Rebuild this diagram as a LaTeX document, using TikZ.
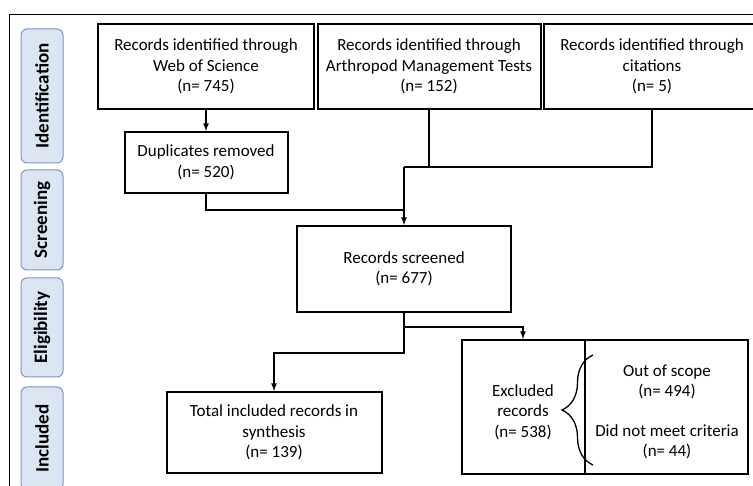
\documentclass[tikz,border=0pt]{standalone}
\usepackage{fontspec}
\setmainfont{Carlito}
\usetikzlibrary{positioning,decorations.pathreplacing}

\definecolor{stagefill}{RGB}{220,230,242}
\definecolor{stageedge}{RGB}{124,150,196}

\tikzset{
  box/.style={draw, line width=2pt, align=center, inner sep=0pt, font=\fontsize{17}{20.5}\selectfont},
  txt/.style={align=center, inner sep=0pt, font=\fontsize{17}{20.5}\selectfont},
  stage/.style={draw=stageedge, fill=stagefill, line width=1pt, rounded corners=6pt, rotate=90, inner sep=0pt, font=\fontsize{19}{23}\selectfont\bfseries},
  link/.style={line width=1.6pt},
}

\begin{document}
\begin{tikzpicture}[x=1pt,y=-1pt]
\useasboundingbox (0,0) rectangle (753,486);
\draw[line width=0.8pt] (9,500) |- (760,14);

\foreach \y/\h/\stagename in {96/134/Identification, 220/100/Screening, 327.5/99/Eligibility, 438.5/103/Included} {
    \node[stage, minimum width=\h pt, minimum height=42pt] (\stagename) at (42,\y) {\stagename};
}

\node[box, minimum width=216pt, minimum height=85pt] (wos) at (206,66.5) {Records identified through\\Web of Science\\(n= 745)};
\node[box, minimum width=223pt, minimum height=85pt] (amt) at (429,66.5) {Records identified through\\Arthropod Management Tests\\(n= 152)};
\node[box, minimum width=216pt, minimum height=85pt] (cit) at (652,66.5) {Records identified through\\citations\\(n= 5)};
\node[box, minimum width=163pt, minimum height=61pt] (dup) at (206,162.5) {Duplicates removed\\(n= 520)};
\node[box, minimum width=214pt, minimum height=86pt] (scr) at (404,269) {Records screened\\(n= 677)};
\node[box, minimum width=215pt, minimum height=81pt] (tot) at (274,432.5) {Total included records in\\synthesis\\(n= 139)};
\node[box, minimum width=286pt, minimum height=134pt] (exc) at (605,407) {};

\node[txt] (exctext) at (523,412) {Excluded\\records\\(n= 538)};
\node[txt] (scope) at (667,382) {Out of scope\\(n= 494)};
\node[txt] (criteria) at (667,442) {Did not meet criteria\\(n= 44)};

\coordinate (merge) at (404,167);
\coordinate (dupjoin) at (404,210);
\coordinate (split) at (404,327);
\coordinate (lower) at (404,353);
\coordinate (divtop) at (585,340);
\coordinate (bracetop) at (593,355);
\coordinate (bracebot) at (593,465);

\draw[link,-latex] (wos) -- (dup);
\draw[link] (dup.south) |- (dupjoin);
\draw[link] (amt.south) |- (merge);
\draw[link] (cit.south) |- (merge);
\draw[link,-latex] (merge) -- (scr.north);
\draw[link,-latex] (scr.south) -- (split) -| (exctext |- exc.north);
\draw[link,-latex] (split) -- (lower) -| (tot.north);

\draw[link] (divtop) -- (divtop |- exc.south);
\draw[line width=1.3pt, decorate, decoration={brace, amplitude=31pt}] (bracebot) -- (bracetop);
\end{tikzpicture}
\end{document}
